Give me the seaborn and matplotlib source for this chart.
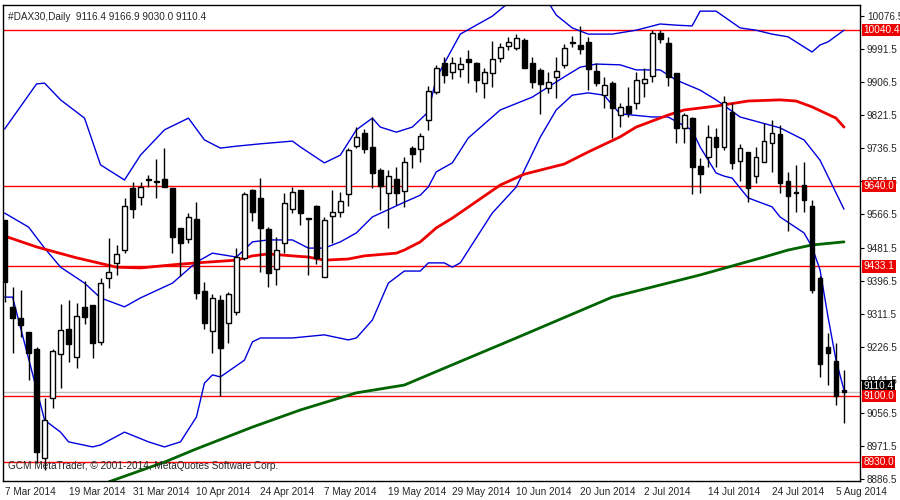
import numpy as np
import pandas as pd
import matplotlib
matplotlib.use("Agg")
import matplotlib.pyplot as plt
import matplotlib.transforms as mtransforms
import seaborn as sns

# OHLC, one row per daily bar
opens = [9552, 9328, 9300, 9264, 9221, 8940, 9095, 9208, 9272, 9200,
         9328, 9334, 9239, 9403, 9442, 9475, 9634, 9611, 9655, 9650,
         9658, 9634, 9532, 9503, 9555, 9370, 9267, 9347, 9287, 9316,
         9455, 9629, 9609, 9529, 9426, 9493, 9580, 9629, 9557, 9588,
         9406, 9562, 9573, 9619, 9742, 9776, 9740, 9681, 9621, 9658,
         9627, 9737, 9735, 9809, 9881, 9956, 9932, 9940, 9966, 9956,
         9904, 9930, 9969, 9999, 9994, 10015, 9956, 9938, 9891, 9920,
         9950, 10009, 10002, 10010, 9935, 9873, 9904, 9822, 9845, 9853,
         9904, 9922, 10033, 10007, 9930, 9789, 9814, 9691, 9714, 9765,
         9740, 9830, 9704, 9727, 9665, 9701, 9750, 9773, 9652, 9624,
         9642, 9588, 9403, 9226, 9190, 9116.4]
highs = [9552, 9381, 9373, 9264, 9226, 9095, 9221, 9336, 9346, 9339,
         9395, 9334, 9403, 9506, 9488, 9609, 9650, 9650, 9668, 9709,
         9737, 9634, 9532, 9570, 9598, 9393, 9362, 9360, 9367, 9480,
         9624, 9632, 9660, 9534, 9508, 9622, 9637, 9629, 9557, 9591,
         9560, 9629, 9624, 9737, 9791, 9786, 9817, 9686, 9681, 9688,
         9714, 9742, 9776, 9897, 9951, 9971, 9971, 9971, 9989, 9958,
         9943, 10012, 10007, 10023, 10030, 10020, 9971, 9943, 9933, 9971,
         10004, 10025, 10051, 10023, 9956, 9920, 9909, 9853, 9894, 9933,
         9943, 10040, 10040, 10023, 9930, 9827, 9817, 9711, 9796, 9789,
         9871, 9853, 9747, 9727, 9740, 9801, 9809, 9796, 9675, 9693,
         9701, 9604, 9408, 9262, 9236, 9166.9]
lows = [9341, 9210, 9251, 9141, 8928, 8910, 9069, 9120, 9187, 9172,
        9285, 9197, 9231, 9377, 9411, 9467, 9557, 9591, 9637, 9609,
        9637, 9467, 9408, 9493, 9349, 9272, 9210, 9100, 9236, 9308,
        9449, 9550, 9418, 9380, 9385, 9467, 9570, 9539, 9411, 9439,
        9406, 9493, 9560, 9588, 9737, 9724, 9634, 9578, 9532, 9591,
        9586, 9686, 9701, 9784, 9876, 9904, 9915, 9920, 9904, 9881,
        9866, 9894, 9958, 9989, 9989, 9943, 9891, 9825, 9879, 9865,
        9943, 9997, 9979, 9886, 9897, 9840, 9763, 9791, 9817, 9838,
        9868, 9907, 10007, 9897, 9750, 9750, 9619, 9621, 9688, 9688,
        9732, 9683, 9652, 9598, 9647, 9701, 9675, 9621, 9524, 9573,
        9573, 9365, 9149, 9128, 9077, 9030.0]
closes = [9393, 9300, 9282, 9210, 8956, 9038, 9215, 9269, 9233, 9305,
          9303, 9236, 9390, 9418, 9465, 9588, 9580, 9637, 9658, 9652,
          9637, 9508, 9493, 9560, 9365, 9287, 9352, 9223, 9362, 9457,
          9619, 9573, 9532, 9416, 9475, 9596, 9624, 9570, 9555, 9454,
          9552, 9573, 9601, 9732, 9765, 9735, 9673, 9640, 9665, 9621,
          9701, 9722, 9768, 9884, 9943, 9925, 9956, 9953, 9958, 9912,
          9933, 9966, 9997, 10010, 10020, 9943, 9907, 9902, 9907, 9935,
          9994, 10007, 9992, 9940, 9904, 9899, 9840, 9843, 9827, 9912,
          9915, 10033, 10017, 9920, 9789, 9822, 9688, 9670, 9765, 9740,
          9855, 9698, 9737, 9634, 9714, 9755, 9776, 9647, 9614, 9622,
          9604, 9372, 9182, 9210, 9100, 9110.4]

# indicator lines, sampled at bar indexes
bb_up_idx = [0, 4, 5, 7, 10, 12, 15, 17, 20, 23, 25, 27, 29, 32, 36, 37, 40, 42, 44, 46,
             47, 49, 51, 53, 54, 57, 61, 63, 68, 69, 71, 73, 76, 79, 82, 84, 86, 87, 89, 92,
             94, 96, 98, 101, 102, 103, 105]
bb_up = [9786, 9902, 9904, 9861, 9814, 9694, 9655, 9719, 9784, 9814, 9758, 9737, 9742, 9748,
         9755, 9740, 9699, 9719, 9784, 9814, 9791, 9778, 9791, 9830, 9917, 10030, 10076, 10110,
         10112, 10079, 10046, 10030, 10030, 10040, 10056, 10053, 10051, 10089, 10089, 10046,
         10040, 10030, 10023, 9984, 10002, 10010, 10040]
bb_mid_idx = [0, 3, 5, 7, 10, 12, 15, 17, 21, 24, 26, 29, 31, 33, 36, 38, 40, 42, 44, 46,
              50, 52, 53, 54, 56, 58, 62, 66, 70, 72, 74, 77, 79, 82, 84, 87, 89, 92, 97, 100,
              102, 105]
bb_mid = [9570, 9534, 9480, 9431, 9390, 9352, 9329, 9352, 9390, 9444, 9467, 9457, 9496, 9501,
          9501, 9480, 9480, 9496, 9519, 9560, 9598, 9616, 9637, 9676, 9699, 9763, 9835, 9868,
          9920, 9945, 9953, 9951, 9938, 9938, 9912, 9886, 9861, 9817, 9789, 9758, 9706, 9580]
bb_low_idx = [0, 1, 5, 7, 8, 11, 12, 15, 18, 20, 22, 24, 25, 26, 27, 30, 31, 32, 36, 40,
              43, 44, 46, 48, 50, 52, 53, 55, 56, 57, 61, 64, 67, 69, 71, 73, 75, 76, 77, 81,
              83, 86, 87, 89, 90, 91, 93, 96, 97, 100, 101, 102, 103, 104, 105]
bb_low = [9354, 9354, 9038, 9007, 8982, 8969, 8974, 9007, 8982, 8969, 8982, 9046, 9133, 9154,
          9149, 9192, 9239, 9249, 9249, 9257, 9244, 9249, 9295, 9390, 9421, 9421, 9442, 9442,
          9431, 9442, 9570, 9637, 9765, 9835, 9873, 9879, 9873, 9848, 9825, 9817, 9817, 9783,
          9740, 9673, 9665, 9660, 9609, 9586, 9560, 9519, 9483, 9424, 9303, 9192, 9115]
ma_red_idx = [0, 4, 9, 14, 17, 21, 24, 29, 31, 33, 36, 38, 40, 43, 45, 49, 50, 52, 54, 56,
              62, 65, 70, 73, 77, 79, 83, 85, 89, 93, 97, 99, 101, 104, 105]
ma_red = [9511, 9483, 9455, 9431, 9429, 9437, 9442, 9449, 9460, 9465, 9460, 9457, 9449, 9452,
          9460, 9467, 9475, 9496, 9532, 9557, 9642, 9670, 9696, 9727, 9766, 9791, 9822, 9835,
          9845, 9858, 9861, 9858, 9843, 9814, 9791]
ma_green_idx = [13, 20, 24, 31, 37, 44, 50, 56, 64, 76, 87, 95, 98, 101, 105]
ma_green = [8879, 8930, 8964, 9020, 9064, 9108, 9128, 9180, 9249, 9354, 9411, 9457, 9475,
            9488, 9496]

levels = [10040.4, 9640.0, 9433.1, 9100.0, 8930.0]
last_price = 9110.4
y_ticks = [10076.5, 9991.5, 9906.5, 9821.5, 9736.5, 9651.5, 9566.5, 9481.5, 9396.5,
           9311.5, 9226.5, 9141.5, 9056.5, 8971.5, 8886.5]
date_idx = [0, 8, 16, 24, 32, 40, 48, 56, 64, 72, 80, 88, 96, 104]
date_labels = ["7 Mar 2014", "19 Mar 2014", "31 Mar 2014", "10 Apr 2014", "24 Apr 2014",
               "7 May 2014", "19 May 2014", "29 May 2014", "10 Jun 2014", "20 Jun 2014",
               "2 Jul 2014", "14 Jul 2014", "24 Jul 2014", "5 Aug 2014"]

sns.set_style("white")
plt.rcParams["font.family"] = ["Liberation Sans", "DejaVu Sans"]
FS = 7.2

df = pd.DataFrame({"o": opens, "h": highs, "l": lows, "c": closes})
df["i"] = np.arange(len(df))
up = df["c"] >= df["o"]

fig = plt.figure(figsize=(9, 5), dpi=100)
ax = fig.add_axes([3 / 900, 19 / 500, 857 / 900, 476 / 500])

# bands and moving averages
for idx, vals, col, lw in [(bb_up_idx, bb_up, "#0000dd", 1.0),
                           (bb_mid_idx, bb_mid, "#0000dd", 1.0),
                           (bb_low_idx, bb_low, "#0000dd", 1.0),
                           (ma_red_idx, ma_red, "#ee0000", 2.0),
                           (ma_green_idx, ma_green, "#006400", 2.0)]:
    sns.lineplot(x=idx, y=vals, color=col, linewidth=lw, ax=ax, zorder=2)

for lv in levels:
    ax.axhline(lv, color="red", linewidth=1, zorder=1)
ax.axhline(last_price, color="#c0c0c0", linewidth=1, zorder=0.5)

# candles
ax.vlines(df["i"], df["l"], df["h"], color="black", linewidth=1, zorder=3)
body_lo = np.minimum(df["o"], df["c"])
body_h = np.maximum(np.abs(df["c"] - df["o"]), 1.5)
ax.bar(df["i"][up], body_h[up], bottom=body_lo[up], width=0.6, color="white",
       edgecolor="black", linewidth=1, zorder=4)
ax.bar(df["i"][~up], body_h[~up], bottom=body_lo[~up], width=0.6, color="black",
       edgecolor="black", linewidth=1, zorder=4)

ax.set_xlim(-0.2, 107)
ax.set_ylim(8881.4, 10104.8)
ax.yaxis.tick_right()
ax.set_yticks(y_ticks)
ax.set_yticklabels([f"{v:.1f}" for v in y_ticks], fontsize=FS)
ax.set_xticks(date_idx)
ax.set_xticklabels(date_labels, fontsize=FS, ha="left")
ax.tick_params(axis="both", length=3, width=0.8, color="black", pad=2)
ax.tick_params(axis="x", pad=1)
for s in ax.spines.values():
    s.set_color("black")
    s.set_linewidth(1)
ax.grid(False)

trans = mtransforms.blended_transform_factory(ax.transAxes, ax.transData)
ax.text(1.004, last_price + 14, f"{last_price:.1f}", transform=trans, fontsize=FS,
        color="white", va="center", ha="left", clip_on=False, zorder=5,
        bbox=dict(boxstyle="square,pad=0.12", fc="black", ec="none"))
for lv in levels:
    ax.text(1.004, lv, f"{lv:.1f}", transform=trans, fontsize=FS, color="white",
            va="center", ha="left", clip_on=False, zorder=6,
            bbox=dict(boxstyle="square,pad=0.12", fc="#ee0000", ec="none"))

ax.text(0.006, 0.985, "#DAX30,Daily  9116.4 9166.9 9030.0 9110.4", transform=ax.transAxes,
        fontsize=FS, va="top", ha="left")
ax.text(0.006, 0.022, "GCM MetaTrader, © 2001-2014, MetaQuotes Software Corp.",
        transform=ax.transAxes, fontsize=FS, va="bottom", ha="left")

fig.savefig("out.png", dpi=100)
